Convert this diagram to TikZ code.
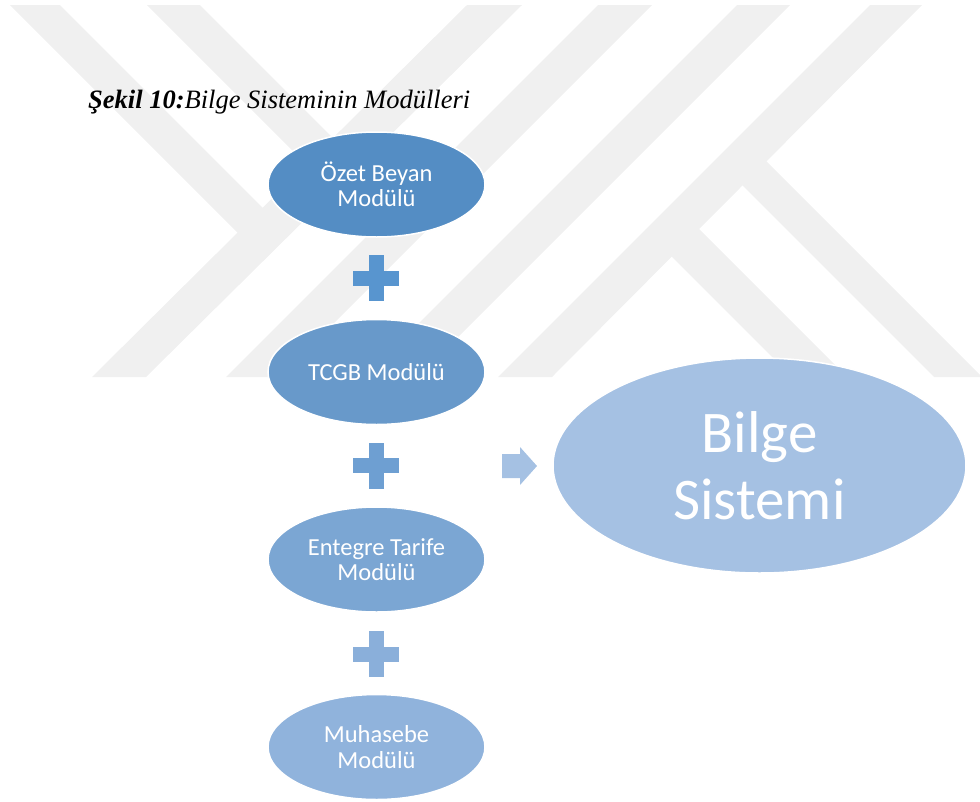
\documentclass[tikz,border=0pt]{standalone}
\usepackage{fontspec}
\setmainfont{Liberation Serif}
\newfontfamily\carlito{Carlito}
\usetikzlibrary{shapes.geometric}
\definecolor{wm}{HTML}{F0F0F0}
\definecolor{cozet}{HTML}{548DC4}
\definecolor{cplusa}{HTML}{5895CF}
\definecolor{ctcgb}{HTML}{6899CA}
\definecolor{cplusb}{HTML}{6E9FD2}
\definecolor{centegre}{HTML}{7BA6D3}
\definecolor{cplusc}{HTML}{8AAFDA}
\definecolor{cmuhasebe}{HTML}{90B3DC}
\definecolor{cbilge}{HTML}{A5C1E3}
\tikzset{
  wmband/.style={fill=wm},
  modnode/.style={ellipse, draw=white, line width=1.5pt, inner sep=0pt,
    minimum width=217pt, minimum height=105pt, text=white, align=center,
    font=\carlito\fontsize{24.5}{25.5}\selectfont},
  bignode/.style={ellipse, draw=white, line width=1.5pt, inner sep=0pt,
    minimum width=413pt, minimum height=215pt, text=white, align=center,
    font=\carlito\fontsize{59}{67}\selectfont},
  titlenode/.style={anchor=base west, inner sep=0pt, font=\fontsize{26.5}{30}\selectfont},
}
\newcommand{\plusshape}[3]{% x y colour
  \fill[#3] (#1-7.5,#2-23) rectangle (#1+7.5,#2+23);
  \fill[#3] (#1-23,#2-7.5) rectangle (#1+23,#2+7.5);
}
\begin{document}
\begin{tikzpicture}[x=1pt,y=-1pt]
\useasboundingbox (0,0) rectangle (980,801);
% watermark
\fill[wmband] (10,5) -- (60,5) -- (263.5,208.5) -- (238.5,233.5) -- cycle;
\fill[wmband] (147,5) -- (200,5) -- (333.5,138.5) -- (334.5,192.5) -- cycle;
\fill[wmband] (467,5) -- (522,5) -- (146,377) -- (92,377) -- cycle;
\fill[wmband] (598,5) -- (652,5) -- (280,377) -- (226,377) -- cycle;
\fill[wmband] (737,5) -- (790,5) -- (418,377) -- (365,377) -- cycle;
\fill[wmband] (870,5) -- (922,5) -- (552,377) -- (498,377) -- cycle;
\fill[wmband] (766,161) -- (980,375) -- (980,377) -- (934,377) -- (716,159) -- cycle;
\fill[wmband] (698.5,228.5) -- (847,377) -- (792,377) -- (645,230) -- cycle;
% title
\node[titlenode] (title) at (88,108) {\textbf{\textit{Şekil 10:}}\textit{Bilge Sisteminin Modülleri}};
% modules
\node[modnode, fill=cozet] (ozet) at (376.5,184.5) {Özet Beyan\\Modülü};
\node[modnode, fill=ctcgb] (tcgb) at (376.5,372) {TCGB Modülü};
\node[modnode, fill=centegre] (entegre) at (376.5,559.5) {Entegre Tarife\\Modülü};
\node[modnode, fill=cmuhasebe] (muhasebe) at (376.5,747) {Muhasebe\\Modülü};
% plus signs
\plusshape{376}{278}{cplusa}
\plusshape{376}{465.5}{cplusb}
\plusshape{376}{654}{cplusc}
% result
\node[bignode, fill=cbilge] (bilge) at (759.5,465.5) {Bilge\\Sistemi};
% block arrow
\coordinate (ar) at (502,466);
\fill[cbilge] (ar) ++(0,-12) -- ++(18,0) -- ++(0,-7) -- (537,466) -- (520,485) -- ++(0,-7) -- ++(-18,0) -- cycle;
\end{tikzpicture}
\end{document}
